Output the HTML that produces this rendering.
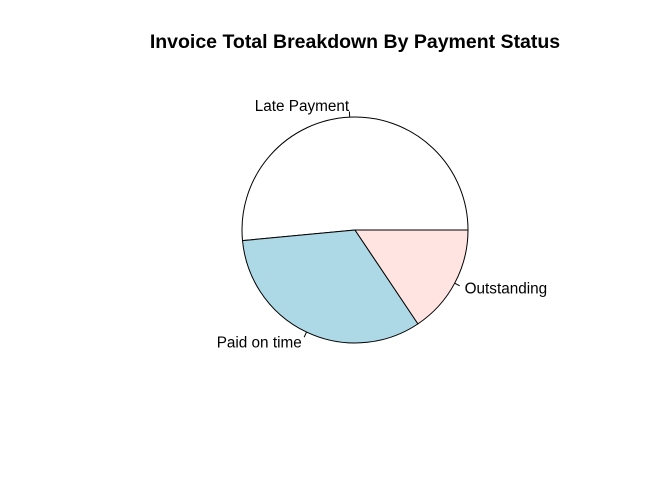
<!DOCTYPE html>
<html><head><meta charset="utf-8"><style>
body{margin:0;background:#fff}
svg{display:block;font-family:"Liberation Sans",Arial,sans-serif}
</style></head><body>
<svg id="chart" width="672" height="480">
<text x="355" y="48" text-anchor="middle" font-size="19.5" font-weight="bold">Invoice Total Breakdown By Payment Status</text>
<g id="slices"></g>
</svg>
<script>
const categories = ["Late Payment", "Paid on time", "Outstanding"];
const values = [51.5, 32.9, 15.6];
const colors = ["#FFFFFF", "#ADD8E6", "#FFE4E1"];
const cx = 355, cy = 230, r = 113;
const g = document.getElementById('slices');
const NS = "http://www.w3.org/2000/svg";
const total = values.reduce((a,b)=>a+b,0);
function pt(angle, rad){ return [cx + rad*Math.cos(angle), cy - rad*Math.sin(angle)]; }
let start = 0;
values.forEach((v,i)=>{
  const sweep = v/total*2*Math.PI;
  const end = start + sweep;
  const [x1,y1] = pt(start,r), [x2,y2] = pt(end,r);
  const large = sweep > Math.PI ? 1 : 0;
  const p = document.createElementNS(NS,'path');
  p.setAttribute('d',`M${cx},${cy} L${x1},${y1} A${r},${r} 0 ${large} 0 ${x2},${y2} Z`);
  p.setAttribute('fill',colors[i]);
  p.setAttribute('stroke','#000');
  p.setAttribute('stroke-width','1');
  
  
  g.appendChild(p);
  const mid = (start+end)/2;
  const [lx1,ly1] = pt(mid,r), [lx2,ly2] = pt(mid,r*1.05), [tx,ty] = pt(mid,r*1.1);
  const l = document.createElementNS(NS,'line');
  l.setAttribute('x1',lx1); l.setAttribute('y1',ly1);
  l.setAttribute('x2',lx2); l.setAttribute('y2',ly2);
  l.setAttribute('stroke','#000');
  
  
  g.appendChild(l);
  const t = document.createElementNS(NS,'text');
  t.setAttribute('x',tx); t.setAttribute('y',ty+5);
  t.setAttribute('font-size','15.3');
  t.setAttribute('text-anchor', Math.cos(mid) >= 0 ? 'start' : 'end');
  t.textContent = categories[i];
  
  
  g.appendChild(t);
  start = end;
});
</script>
</body></html>
